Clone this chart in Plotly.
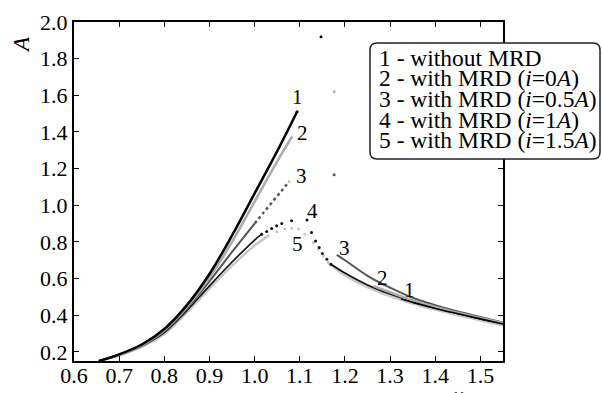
import plotly.graph_objects as go

# ---------------- data ----------------
c1_up_x = [0.655, 0.70, 0.75, 0.80, 0.85, 0.90, 0.95, 1.00, 1.05, 1.094]
c1_up_y = [0.15, 0.186, 0.24, 0.325, 0.455, 0.625, 0.835, 1.065, 1.295, 1.51]
c1_low_x = [1.324, 1.35, 1.40, 1.45, 1.50, 1.55]
c1_low_y = [0.488, 0.47, 0.437, 0.408, 0.38, 0.352]
c1_jump_x = [1.094, 1.147]
c1_jump_y = [1.51, 1.92]

c2_up_x = [0.655, 0.70, 0.75, 0.80, 0.85, 0.90, 0.95, 1.00, 1.05, 1.083]
c2_up_y = [0.15, 0.185, 0.237, 0.318, 0.445, 0.605, 0.80, 1.02, 1.24, 1.375]
c2_low_x = [1.264, 1.30, 1.35, 1.40, 1.45, 1.50, 1.55]
c2_low_y = [0.559, 0.525, 0.48, 0.445, 0.413, 0.385, 0.357]
c2_jump_x = [1.176]
c2_jump_y = [1.62]

c3_up_x = [0.655, 0.70, 0.75, 0.80, 0.85, 0.90, 0.95, 1.00]
c3_up_y = [0.15, 0.185, 0.235, 0.312, 0.435, 0.585, 0.745, 0.90]
c3_dot_x = [1.00, 1.02, 1.04, 1.06, 1.077]
c3_dot_y = [0.90, 0.96, 1.02, 1.08, 1.13]
c3_low_x = [1.182, 1.20, 1.25, 1.30, 1.35, 1.40, 1.45, 1.50, 1.55]
c3_low_y = [0.729, 0.70, 0.615, 0.55, 0.495, 0.455, 0.42, 0.39, 0.36]
c3_jump_x = [1.176]
c3_jump_y = [1.167]

c4_up_x = [0.655, 0.70, 0.75, 0.80, 0.85, 0.90, 0.95, 1.00, 1.0156]
c4_up_y = [0.15, 0.183, 0.232, 0.305, 0.425, 0.56, 0.69, 0.81, 0.842]
c4_dot_x = [1.0156, 1.0267, 1.0377, 1.0488, 1.060, 1.082, 1.116, 1.126, 1.135, 1.143, 1.150, 1.160, 1.169]
c4_dot_y = [0.842, 0.857, 0.873, 0.888, 0.900, 0.915, 0.919, 0.851, 0.805, 0.769, 0.736, 0.705, 0.678]
c4_low_x = [1.169, 1.20, 1.25, 1.30, 1.35, 1.40, 1.45, 1.50, 1.55]
c4_low_y = [0.678, 0.63, 0.565, 0.515, 0.475, 0.44, 0.41, 0.38, 0.355]

c5_up_x = [0.655, 0.70, 0.75, 0.80, 0.85, 0.90, 0.95, 1.00, 1.03]
c5_up_y = [0.15, 0.18, 0.227, 0.297, 0.415, 0.545, 0.67, 0.78, 0.833]
c5_dot_x = [1.03, 1.049, 1.067, 1.082, 1.097, 1.111, 1.130, 1.141, 1.152, 1.163]
c5_dot_y = [0.833, 0.857, 0.870, 0.874, 0.870, 0.842, 0.796, 0.760, 0.723, 0.687]
c5_low_x = [1.163, 1.20, 1.25, 1.30, 1.35, 1.40, 1.45, 1.50, 1.55]
c5_low_y = [0.687, 0.62, 0.555, 0.505, 0.465, 0.432, 0.402, 0.373, 0.345]

x_ticks = [0.6, 0.7, 0.8, 0.9, 1.0, 1.1, 1.2, 1.3, 1.4, 1.5]
y_ticks = [0.2, 0.4, 0.6, 0.8, 1.0, 1.2, 1.4, 1.6, 1.8, 2.0]

legend_lines = [
    "1 - without MRD",
    "2 - with MRD (<i>i</i>=0<i>A</i>)",
    "3 - with MRD (<i>i</i>=0.5<i>A</i>)",
    "4 - with MRD (<i>i</i>=1<i>A</i>)",
    "5 - with MRD (<i>i</i>=1.5<i>A</i>)",
]

FONT = "Liberation Serif"
C1, C2, C3, C4, C5 = "#000000", "#ababab", "#555555", "#111111", "#c8c8c8"

fig = go.Figure()


def line(x, y, color, width, dash="solid"):
    fig.add_trace(go.Scatter(x=x, y=y, mode="lines",
                             line=dict(color=color, width=width, dash=dash, shape="spline", smoothing=1.0),
                             showlegend=False, hoverinfo="skip"))


def dots(x, y, color, size):
    fig.add_trace(go.Scatter(x=x, y=y, mode="markers", marker=dict(color=color, size=size),
                             showlegend=False, hoverinfo="skip"))


# lower-right branches
line(c5_low_x, c5_low_y, C5, 3)
line(c4_low_x, c4_low_y, C4, 1.6)
line(c3_low_x, c3_low_y, C3, 2)
line(c2_low_x, c2_low_y, C2, 2.5)
line(c1_low_x, c1_low_y, C1, 1.6)

# upper-left branches
line(c5_up_x, c5_up_y, C5, 2.5)
line(c4_up_x, c4_up_y, C4, 1.6)
line(c3_up_x, c3_up_y, C3, 2)
line(c3_dot_x, c3_dot_y, C3, 2.5, dash="dot")
line(c2_up_x, c2_up_y, C2, 2.5)
line(c1_up_x, c1_up_y, C1, 2.5)

dots(c5_dot_x, c5_dot_y, C5, 3)
dots(c4_dot_x, c4_dot_y, C4, 3)
dots(c1_jump_x, c1_jump_y, C1, 3)
dots(c2_jump_x, c2_jump_y, C2, 3)
dots(c3_jump_x, c3_jump_y, C3, 3)

# ---------------- layout ----------------
L, R, T, B = 74, 99, 22, 32
W, H = 602, 393
PW, PH = W - L - R, H - T - B


def px(xp):
    return (xp - L) / PW


def py(yp):
    return (H - B - yp) / PH


axis_common = dict(showgrid=False, zeroline=False, showline=True, linecolor="black", linewidth=2,
                   mirror="allticks", ticks="inside", ticklen=5, tickwidth=1, tickcolor="black",
                   automargin=False, tickfont=dict(family=FONT, size=22, color="black"))

fig.update_layout(
    width=W, height=H, margin=dict(l=L, r=R, t=T, b=B),
    paper_bgcolor="white", plot_bgcolor="white", showlegend=False,
    xaxis=dict(range=[0.6, 1.55], tickvals=x_ticks, tickformat=".1f", ticklabelstandoff=-6, **axis_common),
    yaxis=dict(range=[0.15, 2.0], tickvals=y_ticks, tickformat=".1f", **axis_common),
)

ann = []
# curve number labels
for txt, x, y in [("1", 1.094, 1.589), ("2", 1.105, 1.392), ("3", 1.103, 1.162), ("4", 1.129, 0.97),
                  ("5", 1.094, 0.789), ("3", 1.200, 0.767), ("2", 1.284, 0.603), ("1", 1.344, 0.537)]:
    ann.append(dict(x=x, y=y, xref="x", yref="y", text=txt, showarrow=False,
                    font=dict(family=FONT, size=21, color="black")))

# axis titles
ann.append(dict(x=px(22), y=py(45), xref="paper", yref="paper", text="<i>A</i>", textangle=-90,
                xanchor="center", yanchor="middle",
                showarrow=False, font=dict(family=FONT, size=23, color="black")))
ann.append(dict(x=px(458), y=py(381), xref="paper", yref="paper", text="<i>ω</i>", yanchor="top",
                xanchor="center", showarrow=False, font=dict(family=FONT, size=23, color="black")))

# legend text
for k, t in enumerate(legend_lines):
    ann.append(dict(x=px(377), y=py(58 + 20.5 * k), xref="paper", yref="paper", text=t, xanchor="left",
                    yanchor="middle", showarrow=False, font=dict(family=FONT, size=23.5, color="black")))

fig.update_layout(annotations=ann)

# legend box with rounded corners
x0, x1, y0, y1 = px(370), px(600), py(159), py(43)
rx, ry = 7 / PW, 7 / PH
path = (f"M {x0+rx} {y0} L {x1-rx} {y0} Q {x1} {y0} {x1} {y0+ry} L {x1} {y1-ry} Q {x1} {y1} {x1-rx} {y1} "
        f"L {x0+rx} {y1} Q {x0} {y1} {x0} {y1-ry} L {x0} {y0+ry} Q {x0} {y0} {x0+rx} {y0} Z")
fig.add_shape(type="path", path=path, xref="paper", yref="paper", fillcolor="white",
              line=dict(color="#222222", width=1.5), layer="above")

fig.write_html("out.html")
